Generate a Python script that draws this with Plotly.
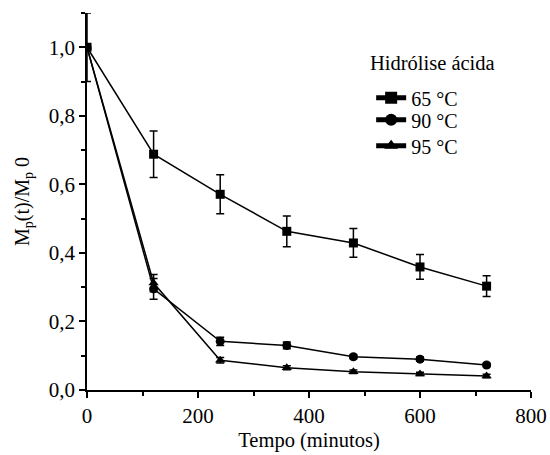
import plotly.graph_objects as go

tempo = [0, 120, 240, 360, 480, 600, 720]
s65 = [1.0, 0.688, 0.571, 0.463, 0.429, 0.359, 0.303]
e65 = [0.10, 0.068, 0.057, 0.045, 0.042, 0.036, 0.030]
s90 = [1.0, 0.295, 0.142, 0.130, 0.097, 0.090, 0.073]
e90 = [0.0, 0.030, 0.012, 0.010, 0.006, 0.006, 0.005]
s95 = [1.0, 0.312, 0.087, 0.065, 0.053, 0.047, 0.041]
e95 = [0.0, 0.025, 0.008, 0.006, 0.005, 0.005, 0.005]
labels = ["65 °C", "90 °C", "95 °C"]
symbols = ["square", "circle", "triangle-up"]
legend_title = "Hidrólise ácida"

FONT = "Liberation Serif, DejaVu Serif, serif"
legend_ids = ["legend", "legend2", "legend3"]
legend_y = [0.775, 0.717, 0.648]  # centres of each legend row (paper)

fig = go.Figure()
for name, ys, es, sym, lid in zip(labels, [s65, s90, s95], [e65, e90, e95], symbols, legend_ids):
    fig.add_trace(go.Scatter(
        x=tempo, y=ys, name=name, mode="lines+markers", legend=lid,
        line=dict(color="black", width=1.5),
        marker=dict(symbol=sym, size=9, color="black"),
        error_y=dict(type="data", array=es, visible=True, color="black",
                     thickness=1.5, width=4),
    ))

fig.add_annotation(
    text=legend_title, xref="paper", yref="paper", x=0.634, y=0.867,
    xanchor="left", yanchor="middle", showarrow=False,
    font=dict(size=20.5, family=FONT, color="black"),
)

leg_common = dict(x=0.64, xanchor="left", yanchor="middle",
                  font=dict(size=20, family=FONT, color="black"),
                  bgcolor="rgba(0,0,0,0)", itemsizing="constant")
fig.update_layout(
    width=550, height=455,
    margin=dict(l=87, r=19, t=13, b=65),
    paper_bgcolor="white", plot_bgcolor="white",
    separators=",.",
    font=dict(family=FONT, size=20, color="black"),
    showlegend=True,
    legend=dict(y=legend_y[0], **leg_common),
    legend2=dict(y=legend_y[1], **leg_common),
    legend3=dict(y=legend_y[2], **leg_common),
)
fig.update_xaxes(
    range=[0, 800], tickvals=[0, 200, 400, 600, 800], automargin=False,
    showline=True, linecolor="black", linewidth=1.5,
    ticks="outside", ticklen=6, tickwidth=1.5, tickcolor="black",
    minor=dict(ticks="outside", dtick=100, ticklen=4, tickwidth=1.5, tickcolor="black"),
    showgrid=False, zeroline=False,
    title=dict(text="Tempo (minutos)", font=dict(size=20.5, family=FONT), standoff=6),
    tickfont=dict(size=21, family=FONT),
)
fig.update_yaxes(
    range=[0, 1.1], tickvals=[0, 0.2, 0.4, 0.6, 0.8, 1.0], tickformat=".1f", automargin=False,
    showline=True, linecolor="black", linewidth=1.5,
    ticks="outside", ticklen=6, tickwidth=1.5, tickcolor="black",
    minor=dict(ticks="outside", dtick=0.1, ticklen=4, tickwidth=1.5, tickcolor="black"),
    showgrid=False, zeroline=False,
    title=dict(text="M<sub>p</sub>(t)/M<sub>p</sub> 0", font=dict(size=20, family=FONT), standoff=14),
    tickfont=dict(size=21, family=FONT),
)
fig.write_html("out.html")
